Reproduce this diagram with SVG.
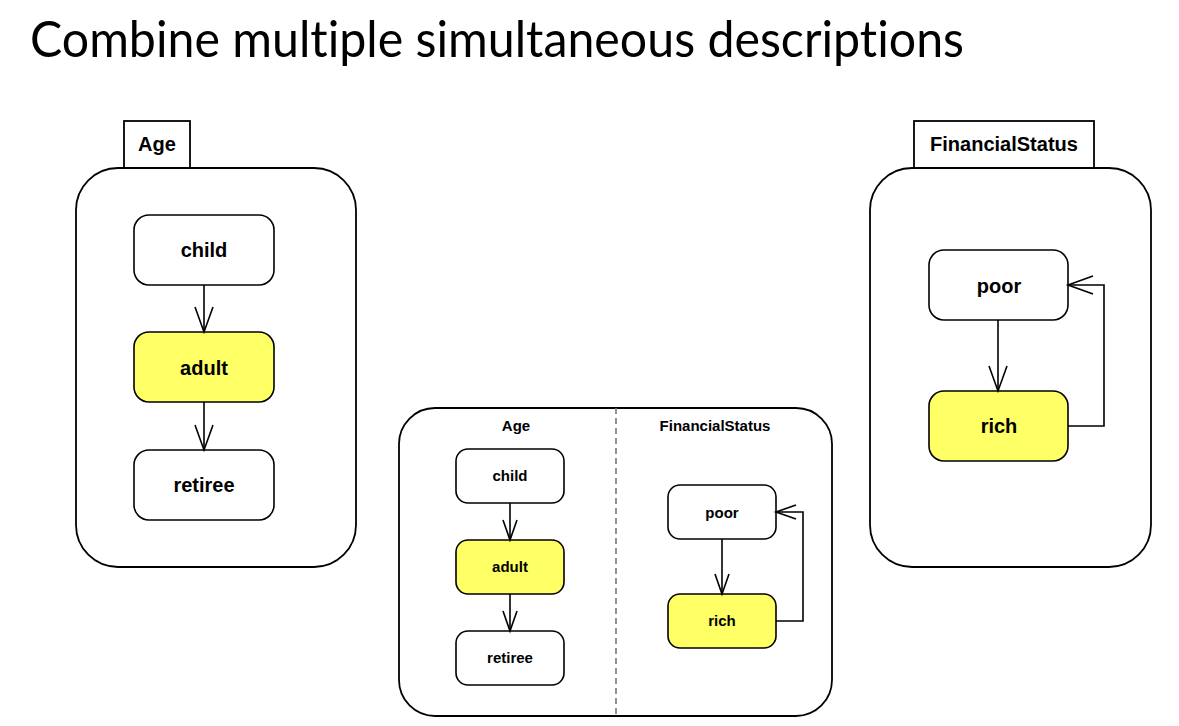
<svg xmlns="http://www.w3.org/2000/svg" width="1179" height="726" viewBox="0 0 1179 726">
<style>
.box{fill:#fff;stroke:#000;stroke-width:1.8}
.st{fill:#fff;stroke:#000;stroke-width:1.6}
.hl{fill:#ffff66}
.lbl{font-family:"Liberation Sans",Arial,sans-serif;font-weight:bold;text-anchor:middle;fill:#000}
.big{font-size:20px}
.sm{font-size:15px}
.con{fill:none;stroke:#000;stroke-width:1.6}
.ah{fill:none;stroke:#000;stroke-width:1.6}
.title{font-family:Lato,"Open Sans",sans-serif;font-size:50px;font-variant-ligatures:none;font-feature-settings:"liga" 0}
</style>
<rect width="1179" height="726" fill="#fff"/>
<text class="title" x="30" y="57" textLength="934" lengthAdjust="spacingAndGlyphs">Combine multiple simultaneous descriptions</text>

<g id="age-machine">
<rect class="box" x="124" y="121" width="66" height="47"/>
<text class="lbl big" x="157" y="151">Age</text>
<rect class="box" x="76" y="168" width="280" height="399" rx="42"/>
</g>
<g id="age-child"><rect class="st" x="134" y="215" width="140" height="70" rx="15"/><text class="lbl big" x="204" y="257">child</text></g>
<g id="age-adult"><rect class="st hl" x="134" y="332" width="140" height="70" rx="15"/><text class="lbl big" x="204" y="375">adult</text></g>
<g id="age-retiree"><rect class="st" x="134" y="450" width="140" height="70" rx="15"/><text class="lbl big" x="204" y="492">retiree</text></g>

<g id="fin-machine">
<rect class="box" x="914" y="121" width="180" height="47"/>
<text class="lbl big" x="1004" y="151">FinancialStatus</text>
<rect class="box" x="870" y="168" width="281" height="399" rx="42"/>
</g>
<g id="fin-poor"><rect class="st" x="929" y="250" width="139" height="70" rx="15"/><text class="lbl big" x="999" y="293">poor</text></g>
<g id="fin-rich"><rect class="st hl" x="929" y="391" width="139" height="70" rx="15"/><text class="lbl big" x="999" y="433">rich</text></g>

<g id="combined">
<rect class="box" x="399" y="408" width="433" height="308" rx="36"/>
<line x1="616" y1="408" x2="616" y2="716" stroke="#777" stroke-width="1.6" stroke-dasharray="6,4"/>
<text class="lbl sm" x="516" y="431">Age</text>
<text class="lbl sm" x="715" y="431">FinancialStatus</text>
</g>
<g id="c-child"><rect class="st" x="456" y="449" width="108" height="54" rx="12"/><text class="lbl sm" x="510" y="481">child</text></g>
<g id="c-adult"><rect class="st hl" x="456" y="540" width="108" height="54" rx="12"/><text class="lbl sm" x="510" y="572">adult</text></g>
<g id="c-retiree"><rect class="st" x="456" y="631" width="108" height="54" rx="12"/><text class="lbl sm" x="510" y="663">retiree</text></g>
<g id="c-poor"><rect class="st" x="668" y="485" width="108" height="54" rx="12"/><text class="lbl sm" x="722" y="518">poor</text></g>
<g id="c-rich"><rect class="st hl" x="668" y="594" width="108" height="54" rx="12"/><text class="lbl sm" x="722" y="626">rich</text></g>

<g id="connectors">
<line class="con" x1="204" y1="285" x2="204" y2="332"/>
<polyline class="ah" points="195,307 204,332 213,307"/>
<line class="con" x1="204" y1="402" x2="204" y2="450"/>
<polyline class="ah" points="195,425 204,450 213,425"/>
<line class="con" x1="998" y1="320" x2="998" y2="391"/>
<polyline class="ah" points="989,366 998,391 1007,366"/>
<polyline class="con" points="1068,426 1104,426 1104,285 1068,285"/>
<polyline class="ah" points="1093,276 1068,285 1093,294"/>
<line class="con" x1="510" y1="503" x2="510" y2="540"/>
<polyline class="ah" points="503,520 510,540 517,520"/>
<line class="con" x1="510" y1="594" x2="510" y2="631"/>
<polyline class="ah" points="503,611 510,631 517,611"/>
<line class="con" x1="722" y1="539" x2="722" y2="594"/>
<polyline class="ah" points="715,574 722,594 729,574"/>
<polyline class="con" points="776,621 803,621 803,512 776,512"/>
<polyline class="ah" points="796,505 776,512 796,519"/>
</g>
</svg>
